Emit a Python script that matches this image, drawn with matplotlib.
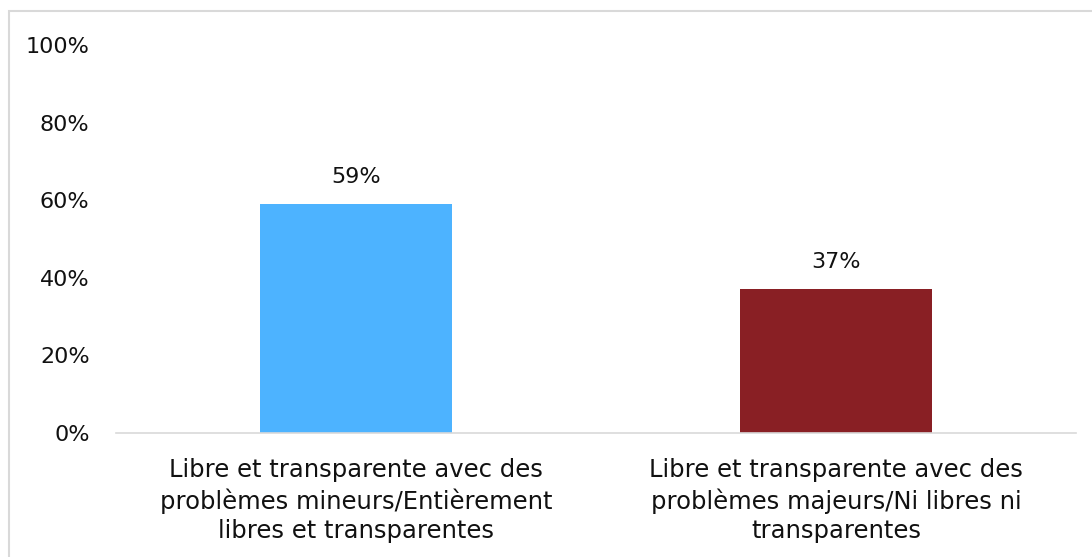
import matplotlib.pyplot as plt
from matplotlib.patches import Rectangle

categories = ["Libre et transparente avec des\nproblèmes mineurs/Entièrement\nlibres et transparentes",
              "Libre et transparente avec des\nproblèmes majeurs/Ni libres ni\ntransparentes"]
values = [59, 37]
colors = ["#4DB3FF", "#891F24"]
yticks = [0, 20, 40, 60, 80, 100]

plt.rcParams['font.family'] = ['DejaVu Sans']

fig = plt.figure(figsize=(10.92, 5.57), dpi=100)
ax = fig.add_axes([116 / 1092, 1 - 433 / 557, 960 / 1092, 388 / 557])

x = range(len(values))
ax.bar(x, values, width=0.40, color=colors)
for xi, v in zip(x, values):
    ax.text(xi, v + 4.5, f"{v}%", ha="center", va="bottom", fontsize=16, color="#111111")

ax.set_xlim(-0.5, 1.5)
ax.set_ylim(0, 100)
ax.set_yticks(yticks)
ax.set_yticklabels([f"{t}%" for t in yticks], fontsize=16, color="#111111")
ax.set_xticks(list(x))
ax.set_xticklabels(categories, fontsize=17.5, color="#111111", linespacing=1.3)
ax.tick_params(axis="x", length=0, pad=18)
ax.tick_params(axis="y", length=0, pad=19)

for s in ["top", "right", "left"]:
    ax.spines[s].set_visible(False)
ax.spines["bottom"].set_color("#D9D9D9")
ax.spines["bottom"].set_linewidth(1.2)

fig.patches.append(Rectangle((9 / 1092, -0.1), 1.1, 1.1 - 11 / 557,
                             transform=fig.transFigure, fill=False,
                             edgecolor="#D9D9D9", linewidth=1.5))

fig.savefig("out.png", dpi=100)
